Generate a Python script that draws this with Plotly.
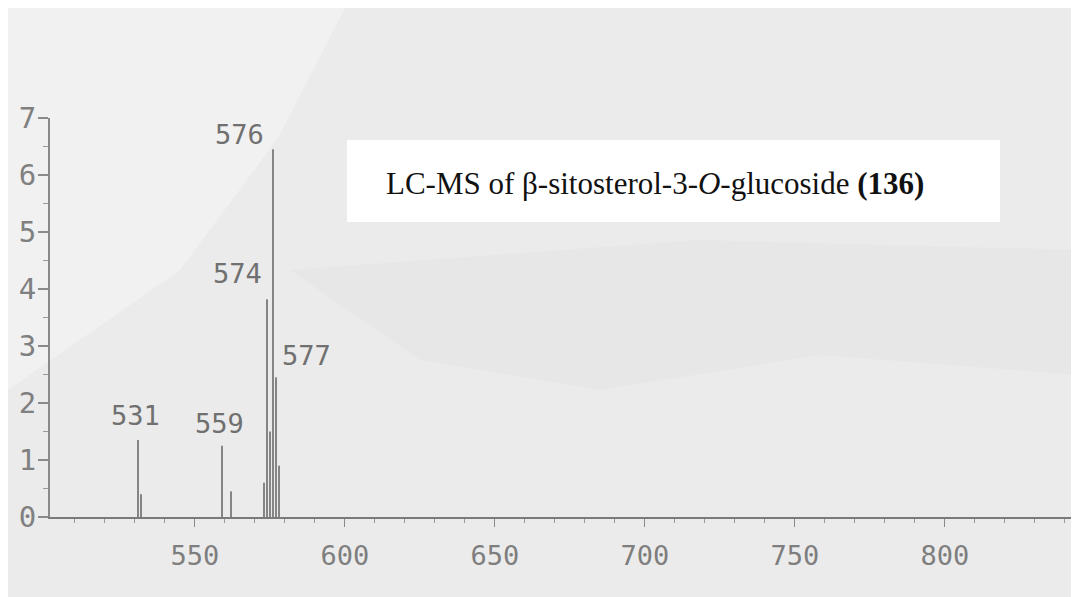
import plotly.graph_objects as go

# ---- data ----
mz = [531, 532, 559, 562, 573, 574, 575, 576, 577, 578]
intensity = [1.35, 0.40, 1.25, 0.45, 0.60, 3.82, 1.50, 6.45, 2.45, 0.90]
peak_labels = ["531", "559", "574", "576", "577"]
x_tick_vals = [550, 600, 650, 700, 750, 800, 850]
y_tick_vals = [0, 1, 2, 3, 4, 5, 6, 7]
title_text = "LC-MS of β-sitosterol-3-<i>O</i>-glucoside <b>(136)</b>"

# the page body adds an 8 px offset; work in screen pixels and subtract it
OFF = 8
W, H = 1079, 597
L, R = 50 - OFF, 0
T = 118 - OFF
B = H - (517 - OFF)
X0 = 501.67
X1 = X0 + (W - L - R) / 3.0
Y0, Y1 = 0, 7


def px(xp):
    return (xp - OFF - L) / (W - L - R)


def py(yp):
    return (H - B - (yp - OFF)) / (H - T - B)


xs, ys = [], []
for m, h in zip(mz, intensity):
    xs += [m, m, None]
    ys += [0, h, None]

fig = go.Figure()
fig.add_trace(go.Scatter(x=xs, y=ys, mode="lines",
                         line=dict(color="#858585", width=2),
                         hoverinfo="skip", showlegend=False))

tick_font = dict(family="DejaVu Sans Mono", size=27, color="#7e7e7e")
ytick_font = dict(family="DejaVu Sans Mono", size=29, color="#808080")
label_font = dict(family="DejaVu Sans Mono", size=27, color="#707070")

label_style = {
    "531": dict(xanchor="center", xshift=-2, yshift=25),
    "559": dict(xanchor="center", xshift=-2, yshift=22),
    "574": dict(xanchor="right", xshift=-3, yshift=26),
    "576": dict(xanchor="right", xshift=-7, yshift=15),
    "577": dict(xanchor="left", xshift=4, yshift=22),
}
lookup = dict(zip(mz, intensity))
annotations = []
for lab in peak_labels:
    m = int(lab)
    st = label_style[lab]
    annotations.append(dict(x=m, y=lookup[m], xref="x", yref="y", text=lab,
                            showarrow=False, font=label_font,
                            xanchor=st["xanchor"], yanchor="middle",
                            xshift=st["xshift"], yshift=st["yshift"]))

# title box text
annotations.append(dict(x=px(384), y=py(183), xref="paper", yref="paper",
                        text=title_text, showarrow=False, xanchor="left",
                        yanchor="middle",
                        font=dict(family="Liberation Serif", size=31, color="#111111")))

shapes = [
    # lighter upper-left paper region
    dict(type="path", xref="paper", yref="paper", layer="below",
         path=f"M {px(8)} {py(8)} L {px(345)} {py(8)} L {px(278)} {py(138)} "
              f"L {px(180)} {py(270)} L {px(8)} {py(390)} Z",
         fillcolor="#f1f1f1", line=dict(width=0)),
    # darker smudge band across the right
    dict(type="path", xref="paper", yref="paper", layer="below",
         path=f"M {px(290)} {py(270)} L {px(700)} {py(240)} L {px(1079)} {py(250)} "
              f"L {px(1079)} {py(375)} L {px(820)} {py(355)} L {px(600)} {py(390)} "
              f"L {px(420)} {py(360)} Z",
         fillcolor="#e3e3e3", line=dict(width=0), opacity=0.45),
    # white title box
    dict(type="rect", xref="paper", yref="paper", layer="above",
         x0=px(347), x1=px(1000), y0=py(222), y1=py(140),
         fillcolor="#ffffff", line=dict(width=0)),
]

fig.update_layout(
    width=W, height=H,
    margin=dict(l=L, r=R, t=T, b=B, pad=0, autoexpand=False),
    paper_bgcolor="#ebebeb",
    plot_bgcolor="rgba(0,0,0,0)",
    showlegend=False,
    annotations=annotations,
    shapes=shapes,
    xaxis=dict(range=[X0, X1], tickvals=x_tick_vals,
               ticktext=[str(v) for v in x_tick_vals],
               showgrid=False, zeroline=False, showline=True,
               linecolor="#7a7a7a", linewidth=2,
               ticks="outside", ticklen=8, tickwidth=1, tickcolor="#8a8a8a",
               minor=dict(dtick=10, tick0=500, ticks="outside", ticklen=4,
                          tickcolor="#9a9a9a", tickwidth=1),
               tickfont=tick_font, ticklabelstandoff=6, automargin=False),
    yaxis=dict(range=[Y0, Y1], tickvals=y_tick_vals,
               showgrid=False, zeroline=False, showline=True,
               linecolor="#8a8a8a", linewidth=2,
               ticks="outside", ticklen=10, tickwidth=2, tickcolor="#8a8a8a",
               minor=dict(dtick=0.5, ticks="outside", ticklen=5,
                          tickcolor="#9a9a9a", tickwidth=1),
               tickfont=ytick_font, ticklabelstandoff=-4, automargin=False),
)

fig.write_html("out.html")
